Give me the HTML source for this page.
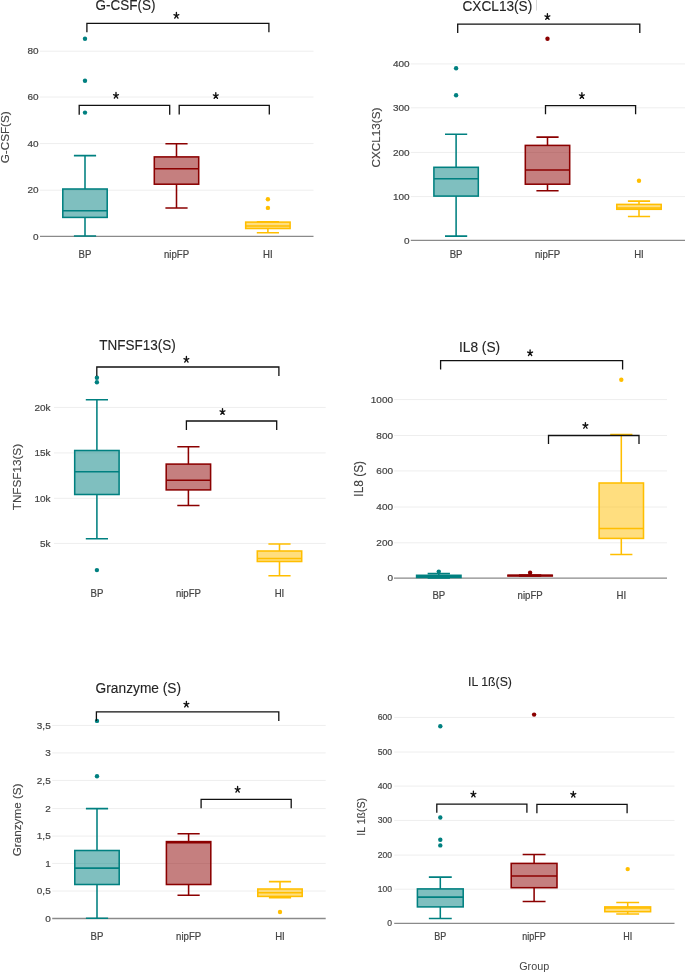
<!DOCTYPE html>
<html><head><meta charset="utf-8"><title>Box plots</title>
<style>
html,body{margin:0;padding:0;background:#fff;}
body{width:685px;height:972px;overflow:hidden;}
svg{display:block;font-family:"Liberation Sans", sans-serif;}
#w{width:685px;height:972px;will-change:transform;}
</style></head>
<body>
<div id="w">
<svg width="685" height="972" viewBox="0 0 685 972">
<rect width="685" height="972" fill="#fff"/>
<line x1="40" y1="51.2" x2="313.5" y2="51.2" stroke="#eeeeee" stroke-width="1"/>
<line x1="40" y1="97" x2="313.5" y2="97" stroke="#eeeeee" stroke-width="1"/>
<line x1="40" y1="143.6" x2="313.5" y2="143.6" stroke="#eeeeee" stroke-width="1"/>
<line x1="40" y1="190.2" x2="313.5" y2="190.2" stroke="#eeeeee" stroke-width="1"/>
<text transform="translate(38.6,54.46) scale(1.075,1)" font-size="9.3" text-anchor="end" fill="#444" stroke="#444" stroke-width="0.2">80</text>
<text transform="translate(38.6,100.25) scale(1.075,1)" font-size="9.3" text-anchor="end" fill="#444" stroke="#444" stroke-width="0.2">60</text>
<text transform="translate(38.6,146.85) scale(1.075,1)" font-size="9.3" text-anchor="end" fill="#444" stroke="#444" stroke-width="0.2">40</text>
<text transform="translate(38.6,193.45) scale(1.075,1)" font-size="9.3" text-anchor="end" fill="#444" stroke="#444" stroke-width="0.2">20</text>
<text transform="translate(38.6,239.56) scale(1.075,1)" font-size="9.3" text-anchor="end" fill="#444" stroke="#444" stroke-width="0.2">0</text>
<line x1="40" y1="236.3" x2="313.5" y2="236.3" stroke="#8a8a8a" stroke-width="1.3"/>
<path d="M85,189V155.6M73.9,155.6H96.1M85,217.4V236M73.9,236H96.1" stroke="#008080" stroke-width="1.55" fill="none"/>
<rect x="62.8" y="189" width="44.4" height="28.4" fill="#008080" fill-opacity="0.5" stroke="#008080" stroke-width="1.55"/>
<line x1="62.8" y1="210.8" x2="107.2" y2="210.8" stroke="#008080" stroke-width="1.55"/>
<circle cx="85" cy="38.7" r="2.2" fill="#008080"/>
<circle cx="85" cy="80.7" r="2.2" fill="#008080"/>
<circle cx="85" cy="112.6" r="2.2" fill="#008080"/>
<path d="M176.5,156.9V143.8M165.4,143.8H187.6M176.5,184.2V207.9M165.4,207.9H187.6" stroke="#8b0000" stroke-width="1.55" fill="none"/>
<rect x="154.3" y="156.9" width="44.4" height="27.3" fill="#8b0000" fill-opacity="0.5" stroke="#8b0000" stroke-width="1.55"/>
<line x1="154.3" y1="168.8" x2="198.7" y2="168.8" stroke="#8b0000" stroke-width="1.55"/>
<path d="M267.9,222.1V221.7M256.8,221.7H279M267.9,228.5V232.7M256.8,232.7H279" stroke="#ffbe00" stroke-width="1.55" fill="none"/>
<rect x="245.7" y="222.1" width="44.4" height="6.4" fill="#ffbe00" fill-opacity="0.5" stroke="#ffbe00" stroke-width="1.55"/>
<line x1="245.7" y1="226" x2="290.1" y2="226" stroke="#ffbe00" stroke-width="1.55"/>
<circle cx="267.9" cy="199.3" r="2.2" fill="#ffbe00"/>
<circle cx="267.9" cy="207.9" r="2.2" fill="#ffbe00"/>
<text transform="translate(85,257.9) scale(1,1.15)" font-size="9.6" text-anchor="middle" fill="#444" stroke="#444" stroke-width="0.2">BP</text>
<text transform="translate(176.5,257.9) scale(1,1.15)" font-size="9.6" text-anchor="middle" fill="#444" stroke="#444" stroke-width="0.2">nipFP</text>
<text transform="translate(267.9,257.9) scale(1,1.15)" font-size="9.6" text-anchor="middle" fill="#444" stroke="#444" stroke-width="0.2">HI</text>
<path d="M86.9,32.2V23.4H268.9V32.2" stroke="#111" stroke-width="1.3" fill="none"/>
<path d="M176.4,15.6L176.4,12.5M176.4,15.6L173.95,14.65M176.4,15.6L178.85,14.65M176.4,15.6L174.75,18.15M176.4,15.6L178.05,18.15" stroke="#111" stroke-width="1.35" stroke-linecap="round" fill="none"/>
<path d="M79.2,114.7V105.3H169.7V114.7" stroke="#111" stroke-width="1.3" fill="none"/>
<path d="M116,95.6L116,92.5M116,95.6L113.55,94.65M116,95.6L118.45,94.65M116,95.6L114.35,98.15M116,95.6L117.65,98.15" stroke="#111" stroke-width="1.35" stroke-linecap="round" fill="none"/>
<path d="M179.2,114.6V105.4H269.3V114.6" stroke="#111" stroke-width="1.3" fill="none"/>
<path d="M215.8,95.8L215.8,92.7M215.8,95.8L213.35,94.85M215.8,95.8L218.25,94.85M215.8,95.8L214.15,98.35M215.8,95.8L217.45,98.35" stroke="#111" stroke-width="1.35" stroke-linecap="round" fill="none"/>
<text transform="translate(95.6,10.4) scale(1,1.11)" font-size="13.5" fill="#252525" stroke="#252525" stroke-width="0.12">G-CSF(S)</text>
<text transform="translate(8.9,137.3) rotate(-90)" x="0" y="0" font-size="11.7" text-anchor="middle" fill="#444" stroke="#444" stroke-width="0.15">G-CSF(S)</text>
<line x1="410.8" y1="63.9" x2="685" y2="63.9" stroke="#eeeeee" stroke-width="1"/>
<line x1="410.8" y1="107.8" x2="685" y2="107.8" stroke="#eeeeee" stroke-width="1"/>
<line x1="410.8" y1="152.4" x2="685" y2="152.4" stroke="#eeeeee" stroke-width="1"/>
<line x1="410.8" y1="196.6" x2="685" y2="196.6" stroke="#eeeeee" stroke-width="1"/>
<text transform="translate(409.6,67.16) scale(1.075,1)" font-size="9.3" text-anchor="end" fill="#444" stroke="#444" stroke-width="0.2">400</text>
<text transform="translate(409.6,111.05) scale(1.075,1)" font-size="9.3" text-anchor="end" fill="#444" stroke="#444" stroke-width="0.2">300</text>
<text transform="translate(409.6,155.66) scale(1.075,1)" font-size="9.3" text-anchor="end" fill="#444" stroke="#444" stroke-width="0.2">200</text>
<text transform="translate(409.6,199.85) scale(1.075,1)" font-size="9.3" text-anchor="end" fill="#444" stroke="#444" stroke-width="0.2">100</text>
<text transform="translate(409.6,243.66) scale(1.075,1)" font-size="9.3" text-anchor="end" fill="#444" stroke="#444" stroke-width="0.2">0</text>
<line x1="410.8" y1="240.4" x2="685" y2="240.4" stroke="#8a8a8a" stroke-width="1.3"/>
<path d="M456.1,167.3V134.2M445,134.2H467.2M456.1,196.1V236.1M445,236.1H467.2" stroke="#008080" stroke-width="1.55" fill="none"/>
<rect x="433.9" y="167.3" width="44.4" height="28.8" fill="#008080" fill-opacity="0.5" stroke="#008080" stroke-width="1.55"/>
<line x1="433.9" y1="178.7" x2="478.3" y2="178.7" stroke="#008080" stroke-width="1.55"/>
<circle cx="456.1" cy="68.3" r="2.2" fill="#008080"/>
<circle cx="456.1" cy="95.3" r="2.2" fill="#008080"/>
<path d="M547.5,145.4V137.1M536.4,137.1H558.6M547.5,184.2V190.8M536.4,190.8H558.6" stroke="#8b0000" stroke-width="1.55" fill="none"/>
<rect x="525.3" y="145.4" width="44.4" height="38.8" fill="#8b0000" fill-opacity="0.5" stroke="#8b0000" stroke-width="1.55"/>
<line x1="525.3" y1="169.9" x2="569.7" y2="169.9" stroke="#8b0000" stroke-width="1.55"/>
<circle cx="547.5" cy="38.7" r="2.2" fill="#8b0000"/>
<path d="M639,204.4V201.1M627.9,201.1H650.1M639,209.3V216.5M627.9,216.5H650.1" stroke="#ffbe00" stroke-width="1.55" fill="none"/>
<rect x="616.8" y="204.4" width="44.4" height="4.9" fill="#ffbe00" fill-opacity="0.5" stroke="#ffbe00" stroke-width="1.55"/>
<line x1="616.8" y1="208" x2="661.2" y2="208" stroke="#ffbe00" stroke-width="1.55"/>
<circle cx="639" cy="180.7" r="2.2" fill="#ffbe00"/>
<text transform="translate(456.1,257.7) scale(1,1.15)" font-size="9.6" text-anchor="middle" fill="#444" stroke="#444" stroke-width="0.2">BP</text>
<text transform="translate(547.5,257.7) scale(1,1.15)" font-size="9.6" text-anchor="middle" fill="#444" stroke="#444" stroke-width="0.2">nipFP</text>
<text transform="translate(639,257.7) scale(1,1.15)" font-size="9.6" text-anchor="middle" fill="#444" stroke="#444" stroke-width="0.2">HI</text>
<path d="M457.7,33.1V24.2H639.8V33.1" stroke="#111" stroke-width="1.3" fill="none"/>
<path d="M547.4,16.8L547.4,13.7M547.4,16.8L544.95,15.85M547.4,16.8L549.85,15.85M547.4,16.8L545.75,19.35M547.4,16.8L549.05,19.35" stroke="#111" stroke-width="1.35" stroke-linecap="round" fill="none"/>
<path d="M545.5,114.2V105.6H635.6V114.2" stroke="#111" stroke-width="1.3" fill="none"/>
<path d="M581.9,95.8L581.9,92.7M581.9,95.8L579.45,94.85M581.9,95.8L584.35,94.85M581.9,95.8L580.25,98.35M581.9,95.8L583.55,98.35" stroke="#111" stroke-width="1.35" stroke-linecap="round" fill="none"/>
<text transform="translate(462.5,10.5) scale(1,1.11)" font-size="13.65" fill="#252525" stroke="#252525" stroke-width="0.12">CXCL13(S)</text>
<text transform="translate(380.4,137.5) rotate(-90)" x="0" y="0" font-size="11.7" text-anchor="middle" fill="#444" stroke="#444" stroke-width="0.15">CXCL13(S)</text>
<line x1="536.5" y1="0" x2="536.5" y2="10.5" stroke="#d8d8d8" stroke-width="1"/>
<line x1="54" y1="407.4" x2="325.7" y2="407.4" stroke="#eeeeee" stroke-width="1"/>
<line x1="54" y1="452.9" x2="325.7" y2="452.9" stroke="#eeeeee" stroke-width="1"/>
<line x1="54" y1="498.3" x2="325.7" y2="498.3" stroke="#eeeeee" stroke-width="1"/>
<line x1="54" y1="543.4" x2="325.7" y2="543.4" stroke="#eeeeee" stroke-width="1"/>
<text transform="translate(50.5,410.65) scale(1.075,1)" font-size="9.3" text-anchor="end" fill="#444" stroke="#444" stroke-width="0.2">20k</text>
<text transform="translate(50.5,456.15) scale(1.075,1)" font-size="9.3" text-anchor="end" fill="#444" stroke="#444" stroke-width="0.2">15k</text>
<text transform="translate(50.5,501.56) scale(1.075,1)" font-size="9.3" text-anchor="end" fill="#444" stroke="#444" stroke-width="0.2">10k</text>
<text transform="translate(50.5,546.65) scale(1.075,1)" font-size="9.3" text-anchor="end" fill="#444" stroke="#444" stroke-width="0.2">5k</text>
<path d="M96.9,450.5V399.8M85.8,399.8H108M96.9,494.5V538.7M85.8,538.7H108" stroke="#008080" stroke-width="1.55" fill="none"/>
<rect x="74.7" y="450.5" width="44.4" height="44" fill="#008080" fill-opacity="0.5" stroke="#008080" stroke-width="1.55"/>
<line x1="74.7" y1="471.7" x2="119.1" y2="471.7" stroke="#008080" stroke-width="1.55"/>
<circle cx="96.9" cy="377.8" r="2.2" fill="#008080"/>
<circle cx="96.9" cy="382.2" r="2.2" fill="#008080"/>
<circle cx="96.9" cy="570.1" r="2.2" fill="#008080"/>
<path d="M188.4,464.1V446.7M177.3,446.7H199.5M188.4,489.9V505.5M177.3,505.5H199.5" stroke="#8b0000" stroke-width="1.55" fill="none"/>
<rect x="166.2" y="464.1" width="44.4" height="25.8" fill="#8b0000" fill-opacity="0.5" stroke="#8b0000" stroke-width="1.55"/>
<line x1="166.2" y1="480.3" x2="210.6" y2="480.3" stroke="#8b0000" stroke-width="1.55"/>
<path d="M279.5,551V544M268.4,544H290.6M279.5,561.5V575.8M268.4,575.8H290.6" stroke="#ffbe00" stroke-width="1.55" fill="none"/>
<rect x="257.3" y="551" width="44.4" height="10.5" fill="#ffbe00" fill-opacity="0.5" stroke="#ffbe00" stroke-width="1.55"/>
<line x1="257.3" y1="558.5" x2="301.7" y2="558.5" stroke="#ffbe00" stroke-width="1.55"/>
<text transform="translate(96.9,597.4) scale(1,1.15)" font-size="9.6" text-anchor="middle" fill="#444" stroke="#444" stroke-width="0.2">BP</text>
<text transform="translate(188.4,597.4) scale(1,1.15)" font-size="9.6" text-anchor="middle" fill="#444" stroke="#444" stroke-width="0.2">nipFP</text>
<text transform="translate(279.5,597.4) scale(1,1.15)" font-size="9.6" text-anchor="middle" fill="#444" stroke="#444" stroke-width="0.2">HI</text>
<path d="M96.8,376.1V367H278.9V376.1" stroke="#111" stroke-width="1.3" fill="none"/>
<path d="M186.4,359.6L186.4,356.5M186.4,359.6L183.95,358.65M186.4,359.6L188.85,358.65M186.4,359.6L184.75,362.15M186.4,359.6L188.05,362.15" stroke="#111" stroke-width="1.35" stroke-linecap="round" fill="none"/>
<path d="M186.4,430V421H276.7V430" stroke="#111" stroke-width="1.3" fill="none"/>
<path d="M222.5,411.8L222.5,408.7M222.5,411.8L220.05,410.85M222.5,411.8L224.95,410.85M222.5,411.8L220.85,414.35M222.5,411.8L224.15,414.35" stroke="#111" stroke-width="1.35" stroke-linecap="round" fill="none"/>
<text transform="translate(99.3,349.9) scale(1,1.11)" font-size="13.5" fill="#252525" stroke="#252525" stroke-width="0.12">TNFSF13(S)</text>
<text transform="translate(21.4,477.1) rotate(-90)" x="0" y="0" font-size="11.7" text-anchor="middle" fill="#444" stroke="#444" stroke-width="0.15">TNFSF13(S)</text>
<line x1="394" y1="399.6" x2="667" y2="399.6" stroke="#eeeeee" stroke-width="1"/>
<line x1="394" y1="435.5" x2="667" y2="435.5" stroke="#eeeeee" stroke-width="1"/>
<line x1="394" y1="470.9" x2="667" y2="470.9" stroke="#eeeeee" stroke-width="1"/>
<line x1="394" y1="507" x2="667" y2="507" stroke="#eeeeee" stroke-width="1"/>
<line x1="394" y1="542.8" x2="667" y2="542.8" stroke="#eeeeee" stroke-width="1"/>
<text transform="translate(393,402.86) scale(1.075,1)" font-size="9.3" text-anchor="end" fill="#444" stroke="#444" stroke-width="0.2">1000</text>
<text transform="translate(393,438.75) scale(1.075,1)" font-size="9.3" text-anchor="end" fill="#444" stroke="#444" stroke-width="0.2">800</text>
<text transform="translate(393,474.15) scale(1.075,1)" font-size="9.3" text-anchor="end" fill="#444" stroke="#444" stroke-width="0.2">600</text>
<text transform="translate(393,510.25) scale(1.075,1)" font-size="9.3" text-anchor="end" fill="#444" stroke="#444" stroke-width="0.2">400</text>
<text transform="translate(393,546.05) scale(1.075,1)" font-size="9.3" text-anchor="end" fill="#444" stroke="#444" stroke-width="0.2">200</text>
<text transform="translate(393,581.46) scale(1.075,1)" font-size="9.3" text-anchor="end" fill="#444" stroke="#444" stroke-width="0.2">0</text>
<line x1="394" y1="578.2" x2="667" y2="578.2" stroke="#8a8a8a" stroke-width="1.3"/>
<path d="M438.8,575.3V573.6M427.65,573.6H449.95M438.8,577.5V578M427.65,578H449.95" stroke="#008080" stroke-width="1.55" fill="none"/>
<rect x="416.6" y="575.3" width="44.4" height="2.2" fill="#008080" fill-opacity="0.5" stroke="#008080" stroke-width="1.55"/>
<line x1="416.6" y1="576.3" x2="461" y2="576.3" stroke="#008080" stroke-width="1.55"/>
<circle cx="438.8" cy="571.6" r="2.2" fill="#008080"/>
<path d="M530.1,575.2V575M518.95,575H541.25M530.1,576V576M518.95,576H541.25" stroke="#8b0000" stroke-width="1.55" fill="none"/>
<rect x="507.9" y="575.2" width="44.4" height="0.8" fill="#8b0000" fill-opacity="0.5" stroke="#8b0000" stroke-width="1.55"/>
<line x1="507.9" y1="575.5" x2="552.3" y2="575.5" stroke="#8b0000" stroke-width="1.55"/>
<circle cx="530.1" cy="572.8" r="2.2" fill="#8b0000"/>
<path d="M621.3,483V434.4M610.2,434.4H632.4M621.3,538.4V554.5M610.2,554.5H632.4" stroke="#ffbe00" stroke-width="1.55" fill="none"/>
<rect x="599.1" y="483" width="44.4" height="55.4" fill="#ffbe00" fill-opacity="0.5" stroke="#ffbe00" stroke-width="1.55"/>
<line x1="599.1" y1="528.4" x2="643.5" y2="528.4" stroke="#ffbe00" stroke-width="1.55"/>
<circle cx="621.3" cy="379.8" r="2.2" fill="#ffbe00"/>
<text transform="translate(438.8,599.4) scale(1,1.15)" font-size="9.6" text-anchor="middle" fill="#444" stroke="#444" stroke-width="0.2">BP</text>
<text transform="translate(530.1,599.4) scale(1,1.15)" font-size="9.6" text-anchor="middle" fill="#444" stroke="#444" stroke-width="0.2">nipFP</text>
<text transform="translate(621.3,599.4) scale(1,1.15)" font-size="9.6" text-anchor="middle" fill="#444" stroke="#444" stroke-width="0.2">HI</text>
<path d="M440.6,369.6V360.6H622.6V369.6" stroke="#111" stroke-width="1.3" fill="none"/>
<path d="M530.1,353L530.1,349.9M530.1,353L527.65,352.05M530.1,353L532.55,352.05M530.1,353L528.45,355.55M530.1,353L531.75,355.55" stroke="#111" stroke-width="1.35" stroke-linecap="round" fill="none"/>
<path d="M548.5,444.1V435.5H639V444.1" stroke="#111" stroke-width="1.3" fill="none"/>
<path d="M585.4,425.7L585.4,422.6M585.4,425.7L582.95,424.75M585.4,425.7L587.85,424.75M585.4,425.7L583.75,428.25M585.4,425.7L587.05,428.25" stroke="#111" stroke-width="1.35" stroke-linecap="round" fill="none"/>
<text transform="translate(459,351.9) scale(1,1.11)" font-size="13.7" fill="#252525" stroke="#252525" stroke-width="0.12">IL8 (S)</text>
<text transform="translate(363.3,478.8) rotate(-90)" x="0" y="0" font-size="11.9" text-anchor="middle" fill="#444" stroke="#444" stroke-width="0.15">IL8 (S)</text>
<line x1="52.2" y1="725.4" x2="325.7" y2="725.4" stroke="#eeeeee" stroke-width="1"/>
<line x1="52.2" y1="752.9" x2="325.7" y2="752.9" stroke="#eeeeee" stroke-width="1"/>
<line x1="52.2" y1="780.4" x2="325.7" y2="780.4" stroke="#eeeeee" stroke-width="1"/>
<line x1="52.2" y1="808.6" x2="325.7" y2="808.6" stroke="#eeeeee" stroke-width="1"/>
<line x1="52.2" y1="836.1" x2="325.7" y2="836.1" stroke="#eeeeee" stroke-width="1"/>
<line x1="52.2" y1="863.4" x2="325.7" y2="863.4" stroke="#eeeeee" stroke-width="1"/>
<line x1="52.2" y1="891" x2="325.7" y2="891" stroke="#eeeeee" stroke-width="1"/>
<text transform="translate(50.7,728.65) scale(1.075,1)" font-size="9.3" text-anchor="end" fill="#444" stroke="#444" stroke-width="0.2">3,5</text>
<text transform="translate(50.7,756.15) scale(1.075,1)" font-size="9.3" text-anchor="end" fill="#444" stroke="#444" stroke-width="0.2">3</text>
<text transform="translate(50.7,783.65) scale(1.075,1)" font-size="9.3" text-anchor="end" fill="#444" stroke="#444" stroke-width="0.2">2,5</text>
<text transform="translate(50.7,811.86) scale(1.075,1)" font-size="9.3" text-anchor="end" fill="#444" stroke="#444" stroke-width="0.2">2</text>
<text transform="translate(50.7,839.36) scale(1.075,1)" font-size="9.3" text-anchor="end" fill="#444" stroke="#444" stroke-width="0.2">1,5</text>
<text transform="translate(50.7,866.65) scale(1.075,1)" font-size="9.3" text-anchor="end" fill="#444" stroke="#444" stroke-width="0.2">1</text>
<text transform="translate(50.7,894.25) scale(1.075,1)" font-size="9.3" text-anchor="end" fill="#444" stroke="#444" stroke-width="0.2">0,5</text>
<text transform="translate(50.7,921.75) scale(1.075,1)" font-size="9.3" text-anchor="end" fill="#444" stroke="#444" stroke-width="0.2">0</text>
<line x1="52.2" y1="918.5" x2="325.7" y2="918.5" stroke="#8a8a8a" stroke-width="1.3"/>
<path d="M97,850.5V808.6M85.9,808.6H108.1M97,884.5V918.3M85.9,918.3H108.1" stroke="#008080" stroke-width="1.55" fill="none"/>
<rect x="74.8" y="850.5" width="44.4" height="34" fill="#008080" fill-opacity="0.5" stroke="#008080" stroke-width="1.55"/>
<line x1="74.8" y1="868.1" x2="119.2" y2="868.1" stroke="#008080" stroke-width="1.55"/>
<circle cx="97" cy="720.9" r="2.2" fill="#008080"/>
<circle cx="97" cy="776.3" r="2.2" fill="#008080"/>
<path d="M188.6,841.6V833.7M177.5,833.7H199.7M188.6,884.5V895.3M177.5,895.3H199.7" stroke="#8b0000" stroke-width="1.55" fill="none"/>
<rect x="166.4" y="841.6" width="44.4" height="42.9" fill="#8b0000" fill-opacity="0.5" stroke="#8b0000" stroke-width="1.55"/>
<line x1="166.4" y1="842.6" x2="210.8" y2="842.6" stroke="#8b0000" stroke-width="1.55"/>
<path d="M280,889V881.6M268.9,881.6H291.1M280,896.4V897.6M268.9,897.6H291.1" stroke="#ffbe00" stroke-width="1.55" fill="none"/>
<rect x="257.8" y="889" width="44.4" height="7.4" fill="#ffbe00" fill-opacity="0.5" stroke="#ffbe00" stroke-width="1.55"/>
<line x1="257.8" y1="892.7" x2="302.2" y2="892.7" stroke="#ffbe00" stroke-width="1.55"/>
<circle cx="280" cy="912" r="2.2" fill="#ffbe00"/>
<text transform="translate(97,940.2) scale(1,1.15)" font-size="9.6" text-anchor="middle" fill="#444" stroke="#444" stroke-width="0.2">BP</text>
<text transform="translate(188.6,940.2) scale(1,1.15)" font-size="9.6" text-anchor="middle" fill="#444" stroke="#444" stroke-width="0.2">nipFP</text>
<text transform="translate(280,940.2) scale(1,1.15)" font-size="9.6" text-anchor="middle" fill="#444" stroke="#444" stroke-width="0.2">HI</text>
<path d="M96.4,720.9V711.8H278.8V720.9" stroke="#111" stroke-width="1.3" fill="none"/>
<path d="M186.4,704.4L186.4,701.3M186.4,704.4L183.95,703.45M186.4,704.4L188.85,703.45M186.4,704.4L184.75,706.95M186.4,704.4L188.05,706.95" stroke="#111" stroke-width="1.35" stroke-linecap="round" fill="none"/>
<path d="M201.1,808.2V799.4H291.2V808.2" stroke="#111" stroke-width="1.3" fill="none"/>
<path d="M237.6,789.6L237.6,786.5M237.6,789.6L235.15,788.65M237.6,789.6L240.05,788.65M237.6,789.6L235.95,792.15M237.6,789.6L239.25,792.15" stroke="#111" stroke-width="1.35" stroke-linecap="round" fill="none"/>
<text transform="translate(95.6,692.8) scale(1,1.11)" font-size="13.75" fill="#252525" stroke="#252525" stroke-width="0.12">Granzyme (S)</text>
<text transform="translate(20.9,819.9) rotate(-90)" x="0" y="0" font-size="11.7" text-anchor="middle" fill="#444" stroke="#444" stroke-width="0.15">Granzyme (S)</text>
<line x1="394.2" y1="717.4" x2="674.5" y2="717.4" stroke="#eeeeee" stroke-width="1"/>
<line x1="394.2" y1="752" x2="674.5" y2="752" stroke="#eeeeee" stroke-width="1"/>
<line x1="394.2" y1="786.1" x2="674.5" y2="786.1" stroke="#eeeeee" stroke-width="1"/>
<line x1="394.2" y1="820.4" x2="674.5" y2="820.4" stroke="#eeeeee" stroke-width="1"/>
<line x1="394.2" y1="855.1" x2="674.5" y2="855.1" stroke="#eeeeee" stroke-width="1"/>
<line x1="394.2" y1="889.2" x2="674.5" y2="889.2" stroke="#eeeeee" stroke-width="1"/>
<text transform="translate(392.1,720.41) scale(1.0,1)" font-size="8.6" text-anchor="end" fill="#444" stroke="#444" stroke-width="0.2">600</text>
<text transform="translate(392.1,755.01) scale(1.0,1)" font-size="8.6" text-anchor="end" fill="#444" stroke="#444" stroke-width="0.2">500</text>
<text transform="translate(392.1,789.11) scale(1.0,1)" font-size="8.6" text-anchor="end" fill="#444" stroke="#444" stroke-width="0.2">400</text>
<text transform="translate(392.1,823.41) scale(1.0,1)" font-size="8.6" text-anchor="end" fill="#444" stroke="#444" stroke-width="0.2">300</text>
<text transform="translate(392.1,858.11) scale(1.0,1)" font-size="8.6" text-anchor="end" fill="#444" stroke="#444" stroke-width="0.2">200</text>
<text transform="translate(392.1,892.21) scale(1.0,1)" font-size="8.6" text-anchor="end" fill="#444" stroke="#444" stroke-width="0.2">100</text>
<text transform="translate(392.1,926.41) scale(1.0,1)" font-size="8.6" text-anchor="end" fill="#444" stroke="#444" stroke-width="0.2">0</text>
<line x1="394.2" y1="923.4" x2="674.5" y2="923.4" stroke="#8a8a8a" stroke-width="1.3"/>
<path d="M440.3,888.9V877.1M428.85,877.1H451.75M440.3,906.9V918.4M428.85,918.4H451.75" stroke="#008080" stroke-width="1.55" fill="none"/>
<rect x="417.4" y="888.9" width="45.8" height="18" fill="#008080" fill-opacity="0.5" stroke="#008080" stroke-width="1.55"/>
<line x1="417.4" y1="897.1" x2="463.2" y2="897.1" stroke="#008080" stroke-width="1.55"/>
<circle cx="440.3" cy="726.2" r="2.2" fill="#008080"/>
<circle cx="440.3" cy="817.5" r="2.2" fill="#008080"/>
<circle cx="440.3" cy="839.7" r="2.2" fill="#008080"/>
<circle cx="440.3" cy="845.4" r="2.2" fill="#008080"/>
<path d="M534.1,863.4V854.4M522.65,854.4H545.55M534.1,887.7V901.5M522.65,901.5H545.55" stroke="#8b0000" stroke-width="1.55" fill="none"/>
<rect x="511.2" y="863.4" width="45.8" height="24.3" fill="#8b0000" fill-opacity="0.5" stroke="#8b0000" stroke-width="1.55"/>
<line x1="511.2" y1="875.9" x2="557" y2="875.9" stroke="#8b0000" stroke-width="1.55"/>
<circle cx="534.1" cy="714.6" r="2.2" fill="#8b0000"/>
<path d="M627.7,906.9V902.5M616.25,902.5H639.15M627.7,911.7V913.9M616.25,913.9H639.15" stroke="#ffbe00" stroke-width="1.55" fill="none"/>
<rect x="604.8" y="906.9" width="45.8" height="4.8" fill="#ffbe00" fill-opacity="0.5" stroke="#ffbe00" stroke-width="1.55"/>
<line x1="604.8" y1="907.9" x2="650.6" y2="907.9" stroke="#ffbe00" stroke-width="1.55"/>
<circle cx="627.7" cy="869.1" r="2.2" fill="#ffbe00"/>
<text transform="translate(440.3,939.76) scale(1,1.15)" font-size="9.0" text-anchor="middle" fill="#444" stroke="#444" stroke-width="0.2">BP</text>
<text transform="translate(534.1,939.76) scale(1,1.15)" font-size="9.0" text-anchor="middle" fill="#444" stroke="#444" stroke-width="0.2">nipFP</text>
<text transform="translate(627.7,939.76) scale(1,1.15)" font-size="9.0" text-anchor="middle" fill="#444" stroke="#444" stroke-width="0.2">HI</text>
<path d="M436.8,812.7V804.1H526.9V812.7" stroke="#111" stroke-width="1.3" fill="none"/>
<path d="M473.4,794.3L473.4,791.2M473.4,794.3L470.95,793.35M473.4,794.3L475.85,793.35M473.4,794.3L471.75,796.85M473.4,794.3L475.05,796.85" stroke="#111" stroke-width="1.35" stroke-linecap="round" fill="none"/>
<path d="M536.9,813.2V804.3H627.1V813.2" stroke="#111" stroke-width="1.3" fill="none"/>
<path d="M573.3,794.5L573.3,791.4M573.3,794.5L570.85,793.55M573.3,794.5L575.75,793.55M573.3,794.5L571.65,797.05M573.3,794.5L574.95,797.05" stroke="#111" stroke-width="1.35" stroke-linecap="round" fill="none"/>
<text transform="translate(468,686.1) scale(1,1.11)" font-size="12.3" fill="#252525" stroke="#252525" stroke-width="0.12">IL 1ß(S)</text>
<text transform="translate(364.6,816.8) rotate(-90)" x="0" y="0" font-size="10.6" text-anchor="middle" fill="#444" stroke="#444" stroke-width="0.15">IL 1ß(S)</text>
<text x="534.2" y="969.8" font-size="10.8" text-anchor="middle" fill="#444">Group</text>
</svg>
</div>
</body></html>
